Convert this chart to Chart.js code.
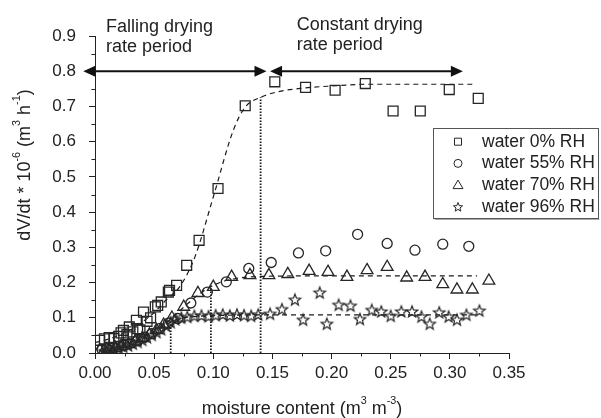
<!DOCTYPE html>
<html>
<head>
<meta charset="utf-8">
<script src="https://cdn.jsdelivr.net/npm/chart.js@4.4.1/dist/chart.umd.min.js"></script>
<style>
  html, body { margin: 0; padding: 0; background: #fff; }
</style>
</head>
<body>
<canvas id="chart" width="601" height="418"></canvas>
<script>
(function () {
  "use strict";

  // water 0% RH (squares)
  const sqX = [0.004, 0.008, 0.012, 0.016, 0.020, 0.022, 0.024, 0.027, 0.029, 0.032, 0.035, 0.036, 0.038, 0.041, 0.044, 0.047, 0.051, 0.053, 0.056, 0.062, 0.063, 0.069, 0.0775, 0.088, 0.104, 0.127, 0.152, 0.178, 0.203, 0.2285, 0.252, 0.275, 0.2995, 0.324];
  const sqY = [0.036, 0.040, 0.044, 0.041, 0.047, 0.057, 0.064, 0.052, 0.074, 0.060, 0.093, 0.069, 0.066, 0.116, 0.090, 0.100, 0.131, 0.135, 0.145, 0.173, 0.178, 0.192, 0.249, 0.320, 0.467, 0.702, 0.770, 0.754, 0.746, 0.765, 0.687, 0.687, 0.748, 0.723];

  // water 55% RH (circles)
  const ciX = [0.006, 0.010, 0.015, 0.020, 0.025, 0.030, 0.036, 0.042, 0.048, 0.055, 0.062, 0.070, 0.081, 0.095, 0.111, 0.130, 0.149, 0.172, 0.195, 0.222, 0.247, 0.2705, 0.294, 0.316];
  const ciY = [0.010, 0.012, 0.015, 0.018, 0.022, 0.028, 0.035, 0.045, 0.055, 0.070, 0.085, 0.098, 0.142, 0.173, 0.202, 0.240, 0.257, 0.284, 0.290, 0.337, 0.311, 0.292, 0.309, 0.303];

  // water 70% RH (triangles)
  const trX = [0.004, 0.008, 0.012, 0.017, 0.022, 0.028, 0.034, 0.040, 0.046, 0.052, 0.058, 0.065, 0.075, 0.087, 0.100, 0.1155, 0.131, 0.147, 0.163, 0.181, 0.197, 0.213, 0.230, 0.247, 0.2635, 0.279, 0.294, 0.306, 0.319, 0.333];
  const trY = [0.008, 0.008, 0.012, 0.015, 0.020, 0.026, 0.033, 0.042, 0.052, 0.065, 0.080, 0.100, 0.131, 0.170, 0.1875, 0.216, 0.221, 0.221, 0.224, 0.233, 0.230, 0.216, 0.235, 0.244, 0.214, 0.216, 0.195, 0.180, 0.180, 0.205];

  // water 96% RH (stars)
  const stX = [0.008, 0.012, 0.016, 0.020, 0.024, 0.028, 0.032, 0.036, 0.040, 0.044, 0.048, 0.052, 0.056, 0.060, 0.064, 0.068, 0.073, 0.078, 0.084, 0.090, 0.096, 0.102, 0.108, 0.114, 0.120, 0.126, 0.132, 0.138, 0.148, 0.158, 0.169, 0.176, 0.190, 0.196, 0.206, 0.216, 0.224, 0.234, 0.242, 0.250, 0.259, 0.268, 0.276, 0.283, 0.291, 0.299, 0.306, 0.314, 0.325];
  const stY = [0.004, 0.008, 0.010, 0.013, 0.016, 0.020, 0.025, 0.030, 0.036, 0.043, 0.050, 0.058, 0.066, 0.076, 0.086, 0.094, 0.099, 0.101, 0.104, 0.105, 0.103, 0.106, 0.108, 0.105, 0.108, 0.106, 0.104, 0.108, 0.110, 0.123, 0.150, 0.093, 0.170, 0.0815, 0.1355, 0.133, 0.095, 0.121, 0.1165, 0.104, 0.1165, 0.1165, 0.102, 0.0815, 0.114, 0.102, 0.093, 0.107, 0.119];

  // fitted curves (dashed)
  const sqFitX = [0, 0.01, 0.02, 0.03, 0.04, 0.05, 0.06, 0.072, 0.0845, 0.100, 0.117, 0.127, 0.140, 0.155, 0.176, 0.200, 0.230, 0.270, 0.320];
  const sqFitY = [0.030, 0.038, 0.050, 0.066, 0.088, 0.115, 0.150, 0.190, 0.273, 0.443, 0.633, 0.698, 0.726, 0.742, 0.752, 0.758, 0.763, 0.763, 0.763];
  const trFitX = [0.005, 0.02, 0.035, 0.05, 0.06, 0.07, 0.08, 0.09, 0.10, 0.11, 0.12, 0.13, 0.15, 0.20, 0.323];
  const trFitY = [0.005, 0.017, 0.035, 0.062, 0.085, 0.115, 0.145, 0.172, 0.192, 0.205, 0.212, 0.216, 0.218, 0.219, 0.219];
  const stFitX = [0.005, 0.02, 0.035, 0.05, 0.06, 0.07, 0.08, 0.10, 0.14, 0.20, 0.323];
  const stFitY = [0.002, 0.012, 0.030, 0.058, 0.080, 0.096, 0.102, 0.106, 0.108, 0.108, 0.108];

  // dotted transition markers
  const dropX = [0.064, 0.098, 0.140];
  const dropTop = [0.090, 0.190, 0.726];

  // period arrows at y = 0.8
  const arrowY = 0.8;
  const arrowFalling = [-0.0099, 0.145];
  const arrowConstant = [0.148, 0.311];

  const seriesLabels = ["water 0% RH", "water 55% RH", "water 70% RH", "water 96% RH"];

  const FONT = '"Liberation Sans", Arial, sans-serif';
  const INK = "#222222";
  const MARK = "#262626";

  function pts(xs, ys) {
    return xs.map((x, i) => ({ x: x, y: ys[i] }));
  }

  function starPath(ctx, cx, cy, R) {
    ctx.beginPath();
    for (let i = 0; i < 10; i++) {
      const r = i % 2 ? R * 0.43 : R;
      const a = -Math.PI / 2 + (i * Math.PI) / 5;
      ctx.lineTo(cx + r * Math.cos(a), cy + r * Math.sin(a));
    }
    ctx.closePath();
  }

  function starCanvas(R) {
    const c = document.createElement("canvas");
    const s = Math.ceil(R * 2 + 4);
    c.width = s;
    c.height = s;
    const g = c.getContext("2d");
    starPath(g, s / 2, s / 2, R);
    g.strokeStyle = MARK;
    g.lineWidth = 1.2;
    g.stroke();
    return c;
  }

  function drawRich(ctx, parts, x, y, size, align) {
    let total = 0;
    parts.forEach((p) => {
      ctx.font = (p.sup ? size * 0.6 : size) + "px " + FONT;
      p.w = ctx.measureText(p.t).width;
      total += p.w;
    });
    let cx = align === "center" ? x - total / 2 : x;
    parts.forEach((p) => {
      ctx.font = (p.sup ? size * 0.6 : size) + "px " + FONT;
      ctx.fillText(p.t, cx, p.sup ? y - size * 0.42 : y);
      cx += p.w;
    });
  }

  function arrowHead(ctx, x, y, dir) {
    ctx.beginPath();
    ctx.moveTo(x, y);
    ctx.lineTo(x - dir * 12, y - 5.5);
    ctx.lineTo(x - dir * 12, y + 5.5);
    ctx.closePath();
    ctx.fill();
  }

  const decorations = {
    id: "decorations",
    afterDraw(chart) {
      const ctx = chart.ctx;
      const xs = chart.scales.x;
      const ys = chart.scales.y;
      const area = chart.chartArea;
      ctx.save();

      // minor ticks
      ctx.strokeStyle = INK;
      ctx.lineWidth = 1;
      ctx.beginPath();
      for (let v = 0.025; v < 0.35; v += 0.05) {
        const px = Math.round(xs.getPixelForValue(v)) + 0.5;
        ctx.moveTo(px, area.bottom);
        ctx.lineTo(px, area.bottom + 3.5);
      }
      for (let v = 0.05; v < 0.9; v += 0.1) {
        const py = Math.round(ys.getPixelForValue(v)) + 0.5;
        ctx.moveTo(area.left, py);
        ctx.lineTo(area.left - 3.5, py);
      }
      ctx.stroke();

      // arrows
      ctx.fillStyle = "#111";
      ctx.strokeStyle = "#111";
      ctx.lineWidth = 2;
      const ay = ys.getPixelForValue(arrowY);
      [arrowFalling, arrowConstant].forEach((a) => {
        const x1 = xs.getPixelForValue(a[0]);
        const x2 = xs.getPixelForValue(a[1]);
        ctx.beginPath();
        ctx.moveTo(x1 + 6, ay);
        ctx.lineTo(x2 - 6, ay);
        ctx.stroke();
        arrowHead(ctx, x1, ay, -1);
        arrowHead(ctx, x2, ay, 1);
      });

      // period captions
      ctx.fillStyle = INK;
      ctx.textBaseline = "middle";
      ctx.textAlign = "left";
      ctx.font = "18px " + FONT;
      const fx = xs.getPixelForValue(0.0093);
      const cx = xs.getPixelForValue(0.1705);
      ctx.fillText("Falling drying", fx, ys.getPixelForValue(0.925));
      ctx.fillText("rate period", fx, ys.getPixelForValue(0.868));
      ctx.fillText("Constant drying", cx, ys.getPixelForValue(0.930));
      ctx.fillText("rate period", cx, ys.getPixelForValue(0.873));

      // axis titles
      drawRich(ctx, [
        { t: "moisture content (m" }, { t: "3", sup: true },
        { t: " m" }, { t: "-3", sup: true }, { t: ")" }
      ], (area.left + area.right) / 2, 409, 18, "center");
      ctx.save();
      ctx.translate(25, 165);
      ctx.rotate(-Math.PI / 2);
      drawRich(ctx, [
        { t: "dV/dt * 10" }, { t: "-6", sup: true },
        { t: " (m" }, { t: "3", sup: true },
        { t: " h" }, { t: "-1", sup: true }, { t: ")" }
      ], 0, 0, 18, "center");
      ctx.restore();

      // legend
      const lx = 433, ly = 128.5, lw = 165, lh = 90;
      ctx.fillStyle = "#fff";
      ctx.fillRect(lx, ly, lw, lh);
      ctx.strokeStyle = "#555";
      ctx.lineWidth = 1;
      ctx.strokeRect(lx + 0.5, ly, lw, lh);
      ctx.strokeStyle = "#aaa";
      ctx.beginPath();
      ctx.moveTo(lx + 1.5, ly + lh + 1);
      ctx.lineTo(lx + lw + 1.5, ly + lh + 1);
      ctx.stroke();

      ctx.strokeStyle = MARK;
      ctx.lineWidth = 1;
      seriesLabels.forEach((label, i) => {
        const my = 141.7 + i * 21.7;
        const mx = 458;
        ctx.beginPath();
        if (i === 0) {
          ctx.rect(mx - 3.5, my - 3.5, 7, 7);
        } else if (i === 1) {
          ctx.arc(mx, my, 4, 0, Math.PI * 2);
        } else if (i === 2) {
          ctx.moveTo(mx, my - 5);
          ctx.lineTo(mx + 5, my + 3.5);
          ctx.lineTo(mx - 5, my + 3.5);
          ctx.closePath();
        } else {
          starPath(ctx, mx, my + 0.5, 4.8);
        }
        ctx.stroke();
        ctx.fillStyle = INK;
        ctx.font = "17.5px " + FONT;
        ctx.fillText(label, 482, my);
      });

      ctx.restore();
    },
  };

  const markerBase = {
    showLine: false,
    borderColor: MARK,
    backgroundColor: "rgba(255,255,255,0)",
    borderWidth: 1.3,
  };

  const fitBase = {
    showLine: true,
    pointRadius: 0,
    borderColor: "#1a1a1a",
    borderWidth: 1.2,
    borderDash: [5, 4],
    cubicInterpolationMode: "monotone",
    fill: false,
  };

  const dropSets = dropX.map((x, i) => ({
    showLine: true,
    pointRadius: 0,
    borderColor: "#1a1a1a",
    borderWidth: 1.8,
    borderDash: [1.5, 1.5],
    data: [{ x: x, y: 0 }, { x: x, y: dropTop[i] }],
  }));

  Chart.defaults.font.family = FONT;
  Chart.defaults.color = INK;

  new Chart(document.getElementById("chart"), {
    type: "scatter",
    data: {
      datasets: [
        Object.assign({ label: seriesLabels[0], data: pts(sqX, sqY), pointStyle: "rect", pointRadius: 7 }, markerBase),
        Object.assign({ label: seriesLabels[1], data: pts(ciX, ciY), pointStyle: "circle", pointRadius: 5 }, markerBase),
        Object.assign({ label: seriesLabels[2], data: pts(trX, trY), pointStyle: "triangle", pointRadius: 6.8 }, markerBase),
        Object.assign({ label: seriesLabels[3], data: pts(stX, stY), pointStyle: starCanvas(6), pointRadius: 6 }, markerBase),
        Object.assign({ data: pts(sqFitX, sqFitY) }, fitBase),
        Object.assign({ data: pts(trFitX, trFitY) }, fitBase),
        Object.assign({ data: pts(stFitX, stFitY) }, fitBase),
      ].concat(dropSets),
    },
    options: {
      responsive: false,
      animation: false,
      layout: { padding: { top: 36, right: 92, left: 0, bottom: 0 } },
      plugins: {
        legend: { display: false },
        tooltip: { enabled: false },
      },
      scales: {
        x: {
          type: "linear",
          min: 0,
          max: 0.35,
          afterFit: function (scale) {
            scale.height = 65;
          },
          ticks: {
            stepSize: 0.05,
            padding: 4,
            color: INK,
            font: { size: 17 },
            callback: function (v) {
              return Number(v).toFixed(2);
            },
          },
          grid: { drawOnChartArea: false, tickLength: 6, color: INK },
          border: { color: INK, width: 1 },
        },
        y: {
          min: 0,
          max: 0.9,
          afterFit: function (scale) {
            scale.width = 95;
          },
          ticks: {
            stepSize: 0.1,
            padding: 13,
            color: INK,
            font: { size: 17 },
            callback: function (v) {
              return Number(v).toFixed(1);
            },
          },
          grid: { drawOnChartArea: false, tickLength: 6, color: INK },
          border: { color: INK, width: 1 },
        },
      },
    },
    plugins: [decorations],
  });
})();
</script>
</body>
</html>
